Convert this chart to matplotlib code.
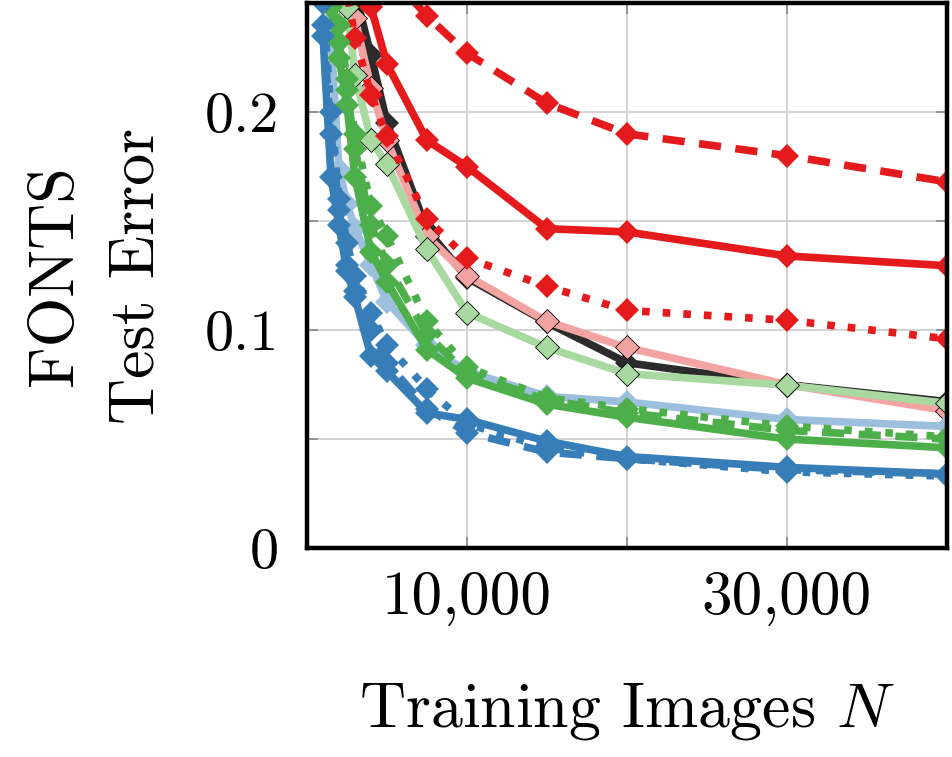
import numpy as np
import matplotlib
matplotlib.use("Agg")
import matplotlib.pyplot as plt

plt.rcParams['font.family'] = ['cmr10', 'DejaVu Serif']
plt.rcParams['mathtext.fontset'] = 'cm'
plt.rcParams['axes.unicode_minus'] = False

# training set sizes
N = [1000, 1500, 2000, 2500, 3000, 4000, 5000, 7500, 10000, 15000, 20000, 30000, 40000]

# test errors (values above 0.25 run off the top)
black_solid = [0.36, 0.33, 0.30, 0.28, 0.255, 0.226, 0.195, 0.146, 0.124, 0.1035, 0.085, 0.075, 0.0672]
pink_solid = [0.33, 0.30, 0.28, 0.26, 0.243, 0.211, 0.187, 0.143, 0.125, 0.104, 0.092, 0.075, 0.063]
lgreen_solid = [0.32, 0.29, 0.265, 0.248, 0.217, 0.187, 0.176, 0.137, 0.108, 0.092, 0.080, 0.0747, 0.0664]
lblue_solid = [0.30, 0.233, 0.174, 0.158, 0.1465, 0.130, 0.113, 0.093, 0.081, 0.0696, 0.067, 0.059, 0.0558]
red_solid = [0.40, 0.36, 0.33, 0.30, 0.28, 0.248, 0.222, 0.187, 0.175, 0.1465, 0.145, 0.134, 0.1295]
red_dashed = [0.40, 0.37, 0.34, 0.32, 0.30, 0.285, 0.265, 0.244, 0.227, 0.204, 0.190, 0.180, 0.168]
red_dotted = [0.33, 0.30, 0.28, 0.255, 0.234, 0.208, 0.189, 0.151, 0.133, 0.120, 0.109, 0.1045, 0.096]
green_dashed = [0.31, 0.255, 0.232, 0.21, 0.183, 0.148, 0.13, 0.098, 0.080, 0.068, 0.062, 0.054, 0.050]
green_dotted = [0.33, 0.27, 0.24, 0.215, 0.190, 0.157, 0.143, 0.104, 0.083, 0.069, 0.064, 0.056, 0.051]
green_solid = [0.30, 0.248, 0.225, 0.203, 0.170, 0.136, 0.122, 0.091, 0.078, 0.066, 0.060, 0.050, 0.046]
blue_dotted = [0.25, 0.20, 0.16, 0.14, 0.125, 0.108, 0.093, 0.073, 0.057, 0.046, 0.041, 0.035, 0.033]
blue_dashed = [0.24, 0.19, 0.155, 0.13, 0.118, 0.100, 0.085, 0.064, 0.053, 0.044, 0.041, 0.036, 0.034]
blue_solid = [0.235, 0.17, 0.148, 0.127, 0.115, 0.088, 0.081, 0.062, 0.059, 0.049, 0.042, 0.037, 0.034]

RED = '#e41a1c'
BLUE = '#377eb8'
GREEN = '#4daf4a'
PINK = '#f4a3a3'
LGREEN = '#a8d9a0'
LBLUE = '#9dbfde'
BLACK = '#2b2b2b'

DASH = (0, (2.9, 1.9))
DOT = (0, (1.0, 1.7))

series = [
    (black_solid, BLACK, '-', None),
    (pink_solid, PINK, '-', 'k'),
    (lgreen_solid, LGREEN, '-', 'k'),
    (lblue_solid, LBLUE, '-', None),
    (red_solid, RED, '-', None),
    (red_dashed, RED, DASH, None),
    (red_dotted, RED, DOT, None),
    (green_dashed, GREEN, DASH, None),
    (green_dotted, GREEN, DOT, None),
    (green_solid, GREEN, '-', None),
    (blue_dotted, BLUE, DOT, None),
    (blue_dashed, BLUE, DASH, None),
    (blue_solid, BLUE, '-', None),
]

fig = plt.figure(figsize=(9.52, 7.57), dpi=100)
ax = fig.add_axes([0.3225, 0.276, 0.672, 0.72])

for vals, col, ls, edge in series:
    ax.plot(N, vals, color=col, linestyle=ls, linewidth=5.5, marker='D',
            markersize=12, markeredgecolor=edge if edge else col,
            markeredgewidth=0.6 if edge else 0, clip_on=True)

ax.set_xlim(0, 40000)
ax.set_ylim(0, 0.25)

ax.set_xticks([0, 10000, 20000, 30000, 40000])
ax.set_xticklabels(['', '10,000', '', '30,000', ''])
ax.set_yticks([0, 0.05, 0.1, 0.15, 0.2, 0.25])
ax.set_yticklabels(['0', '', '0.1', '', '0.2', ''])

ax.grid(True, color='#cccccc', linewidth=1.2)
ax.set_axisbelow(True)
ax.tick_params(direction='in', length=8, width=1.2, color='#888888',
               top=True, right=True, labelsize=42)
ax.tick_params(axis='x', labelsize=44, pad=16)
ax.tick_params(axis='y', pad=20)

for s in ax.spines.values():
    s.set_linewidth(3.2)
    s.set_color('black')

ax.set_xlabel('Training Images $N$', fontsize=46)
ax.xaxis.set_label_coords(0.5, -0.244)
ax.set_ylabel('FONTS\nTest Error', fontsize=46, linespacing=1.53)
ax.yaxis.set_label_coords(-0.219, 0.5)

fig.savefig('out.png', dpi=100)
